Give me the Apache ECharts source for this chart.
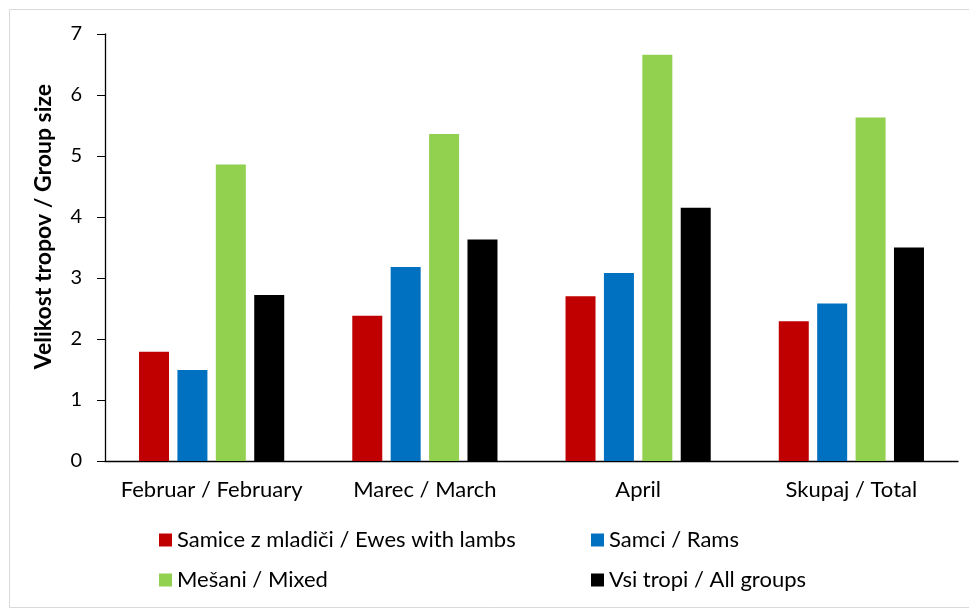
<!DOCTYPE html>
<html>
<head>
<meta charset="utf-8">
<script src="https://cdn.jsdelivr.net/npm/echarts@6/dist/echarts.min.js"></script>
<style>html,body{margin:0;padding:0;background:#fff}#c{width:969px;height:610px}</style>
</head>
<body>
<div id="c"></div>
<script>
const categories = ['Februar / February', 'Marec / March', 'April', 'Skupaj / Total'];
const seriesNames = ['Samice z mladiči / Ewes with lambs', 'Samci / Rams', 'Mešani / Mixed', 'Vsi tropi / All groups'];
const ewes = [1.79, 2.38, 2.70, 2.29];
const rams = [1.49, 3.18, 3.08, 2.58];
const mixed = [4.86, 5.36, 6.66, 5.63];
const allGroups = [2.72, 3.63, 4.15, 3.50];
const yTicks = [0, 1, 2, 3, 4, 5, 6, 7];
const colors = ['#C00000', '#0070C0', '#92D050', '#000000'];
const values = [ewes, rams, mixed, allGroups];

const font = 'Lato, "Open Sans", sans-serif';
const chart = echarts.init(document.getElementById('c'));
const legendPos = [[159, 529], [591, 529], [159, 569], [591, 569]];
chart.setOption({
  animation: false,
  backgroundColor: '#fff',
  graphic: [{
    type: 'rect', shape: {x: 9.5, y: 9.5, width: 980, height: 598},
    style: {fill: 'none', stroke: '#d9d9d9', lineWidth: 1}, silent: true
  }],
  legend: seriesNames.map((n, i) => ({
    data: [n], left: legendPos[i][0], top: legendPos[i][1], padding: 0,
    itemWidth: 13, itemHeight: 13, icon: 'rect',
    textStyle: {fontFamily: font, fontSize: 22, color: '#000'}
  })),
  grid: {left: 105, right: 11, top: 34, bottom: 149, containLabel: false},
  xAxis: {
    type: 'category', data: categories,
    axisLine: {lineStyle: {color: '#000', width: 1.3}},
    axisTick: {show: false},
    axisLabel: {fontFamily: font, fontSize: 22, color: '#000', margin: 18, interval: 0, hideOverlap: false}
  },
  yAxis: {
    type: 'value', min: 0, max: 7, interval: 1,
    name: 'Velikost tropov / Group size', nameLocation: 'middle', nameGap: 50,
    nameTextStyle: {fontFamily: font, fontSize: 23, fontWeight: 'bold', color: '#000', padding: [0, 0, 0, 42]},
    axisLine: {show: true, lineStyle: {color: '#000', width: 1.3}},
    axisTick: {show: true, length: 8, lineStyle: {color: '#000'}},
    splitLine: {show: false},
    axisLabel: {fontFamily: font, fontSize: 20, color: '#000', margin: 23,
      formatter: v => yTicks.includes(v) ? String(v) : ''}
  },
  series: seriesNames.map((n, i) => ({
    name: n, type: 'bar', data: values[i], barWidth: 30, barGap: '28%',
    itemStyle: {color: colors[i]}
  }))
});
</script>
</body>
</html>
